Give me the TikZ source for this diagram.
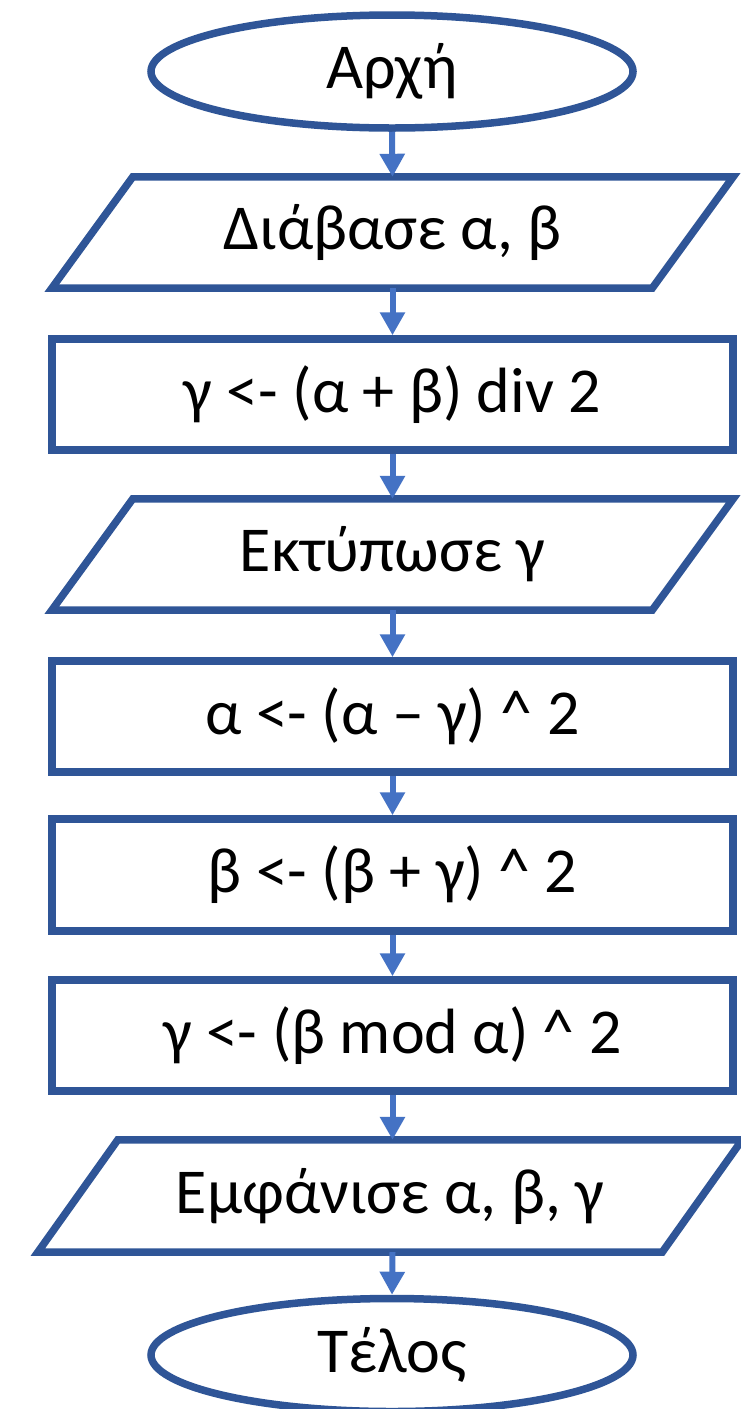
\documentclass[tikz,border=0pt]{standalone}
\usepackage{fontspec}
\setmainfont{Carlito}
\usetikzlibrary{shapes.geometric,arrows.meta}
\definecolor{shpblue}{HTML}{2F5597}
\definecolor{arrblue}{HTML}{4472C4}
\begin{document}
\begin{tikzpicture}[x=1pt,y=-1pt,
  lbl/.style={font=\fontsize{64}{76}\selectfont, inner sep=0pt},
  terminal/.style={ellipse, draw=shpblue, line width=7.5pt, minimum width=482pt, minimum height=113pt, inner sep=0pt, lbl},
  procbox/.style={rectangle, draw=shpblue, line width=7.5pt, minimum width=681pt, minimum height=111pt, inner sep=0pt, lbl},
  iobox/.style={rectangle, draw=none, minimum height=111pt, inner sep=0pt, lbl},
  para/.style={draw=shpblue, line width=7.5pt, line join=miter},
  flow/.style={draw=arrblue, line width=6pt, -{Triangle[length=23pt,width=24pt]}}
]
\useasboundingbox[fill=white] (0,0) rectangle (740,1409);

\node[terminal] (start) at (392,71.5) {Αρχή};

\node[iobox, minimum width=681pt] (p1) at (392.5,232.5) {Διάβασε α, β};
\draw[para] ([xshift=81pt]p1.north west) -- (p1.north east) -- ([xshift=-81pt]p1.south east) -- (p1.south west) -- cycle;

\node[procbox] (r1) at (392.5,394.5) {γ <- (α + β) div 2};

\node[iobox, minimum width=681pt] (p2) at (392.5,554.5) {Εκτύπωσε γ};
\draw[para] ([xshift=81pt]p2.north west) -- (p2.north east) -- ([xshift=-81pt]p2.south east) -- (p2.south west) -- cycle;

\node[procbox] (r2) at (392.5,716.5) {α <- (α – γ) \textasciicircum\ 2};
\node[procbox, minimum height=112pt] (r3) at (392.5,875) {β <- (β + γ) \textasciicircum\ 2};
\node[procbox] (r4) at (392.5,1035.5) {γ <- (β mod α) \textasciicircum\ 2};

\node[iobox, minimum width=704pt, minimum height=112pt] (p3) at (390,1196) {Εμφάνισε α, β, γ};
\draw[para] ([xshift=80pt]p3.north west) -- (p3.north east) -- ([xshift=-80pt]p3.south east) -- (p3.south west) -- cycle;

\node[terminal] (end) at (392,1355) {Τέλος};

\draw[flow] (start.south) -- (p1.north);
\draw[flow] (p1.south) -- (r1.north);
\draw[flow] (r1.south) -- (p2.north);
\draw[flow] (p2.south) -- (r2.north);
\draw[flow] (r2.south) -- (r3.north);
\draw[flow] (r3.south) -- (r4.north);
\draw[flow] (r4.south) -- (r4.south |- p3.north);
\draw[flow] (r4.south |- p3.south) -- (end.north);
\end{tikzpicture}
\end{document}
